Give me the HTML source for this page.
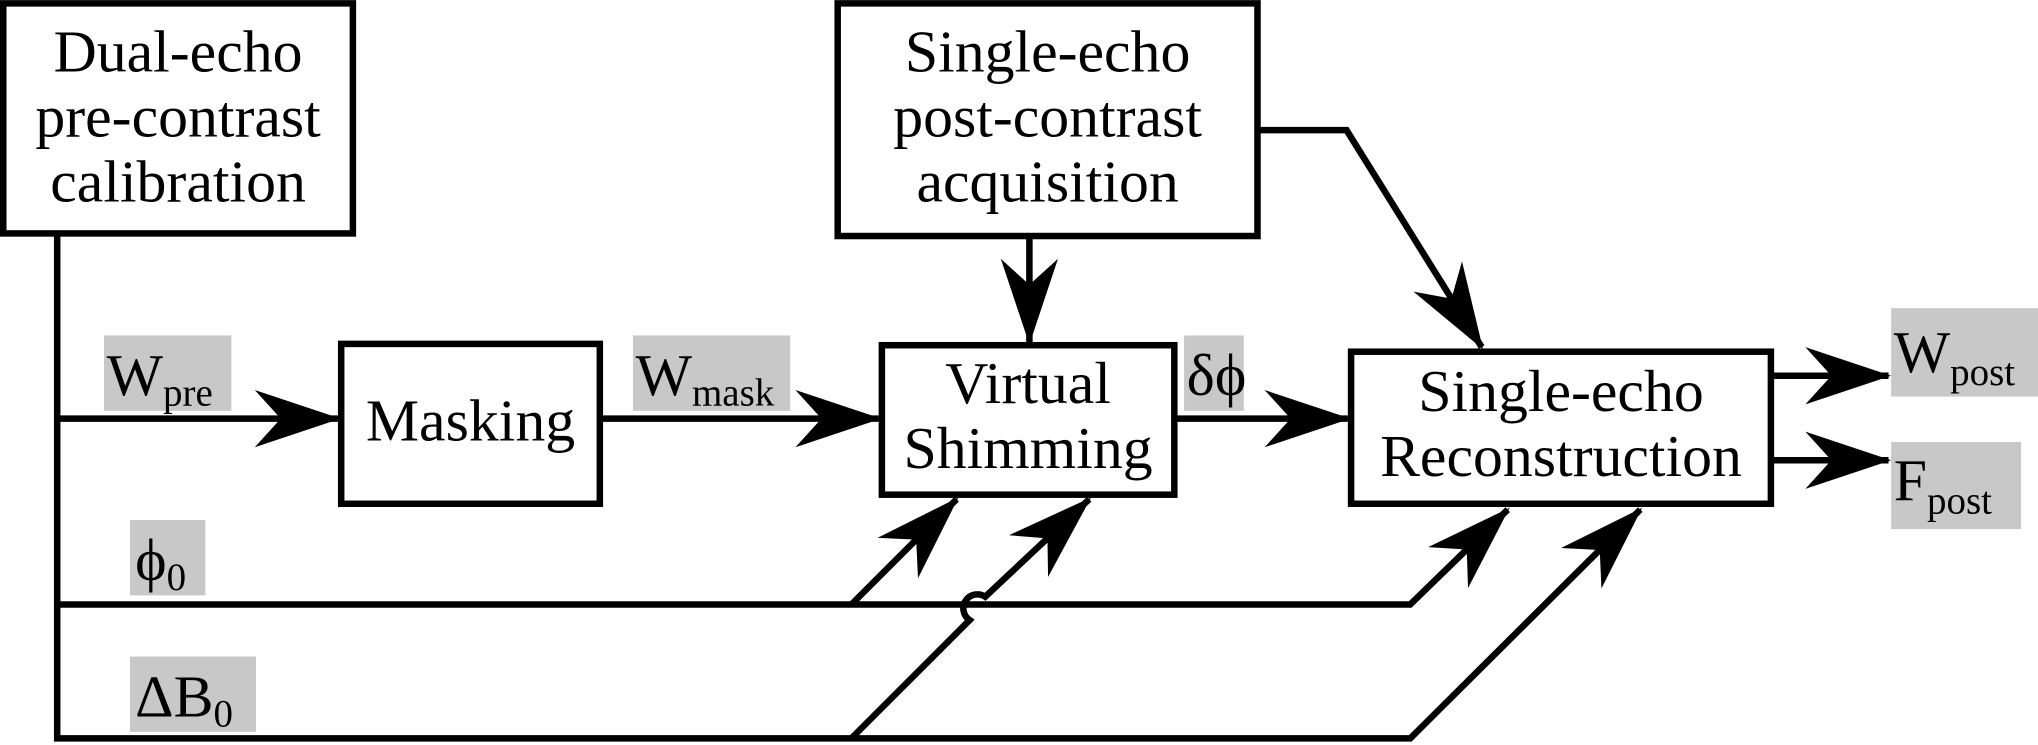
<!DOCTYPE html>
<html><head><meta charset="utf-8"><style>
html,body{margin:0;padding:0;background:#fff;}
svg{display:block;}
text{font-family:"Liberation Serif",serif;fill:#000;}
</style></head><body>
<svg width="2038" height="745" viewBox="0 0 1568 573" xmlns="http://www.w3.org/2000/svg">
<defs>
<marker id="a" markerUnits="userSpaceOnUse" markerWidth="80" markerHeight="60" refX="0" refY="0" viewBox="-70 -30 80 60" orient="auto">
<path d="M2,0 L-64,-22 L-44,0 L-64,22 Z" fill="#000"/>
</marker>
</defs>
<g fill="#c8c8c8">
<rect x="80" y="258" width="98" height="58"/>
<rect x="487" y="258" width="121" height="58"/>
<rect x="911" y="258" width="46" height="58"/>
<rect x="100" y="400" width="58" height="58"/>
<rect x="100" y="505" width="97" height="58"/>
<rect x="1455" y="237" width="113" height="68"/>
<rect x="1455" y="340" width="100" height="67"/>
</g>
<g fill="none" stroke="#000" stroke-width="5">
<rect x="2.5" y="2.5" width="269" height="177"/>
<rect x="644.5" y="2.5" width="323" height="179"/>
<rect x="262.5" y="264.5" width="199" height="123"/>
<rect x="678.5" y="265.5" width="225" height="115"/>
<rect x="1039.5" y="270.5" width="323" height="117"/>
<polyline points="44,180 44,568 1085,568 1262,392" marker-end="url(#a)"/>
<line x1="44" y1="322" x2="260" y2="322" marker-end="url(#a)"/>
<line x1="462" y1="322" x2="676" y2="322" marker-end="url(#a)"/>
<line x1="904" y1="322" x2="1037" y2="322" marker-end="url(#a)"/>
<line x1="792" y1="182" x2="792" y2="263" marker-end="url(#a)"/>
<polyline points="968,100 1036,100 1140,267" marker-end="url(#a)"/>
<polyline points="44,465 1085,465 1160,392" marker-end="url(#a)"/>
<line x1="655" y1="465" x2="736" y2="384" marker-end="url(#a)"/>
<path d="M655,568 L746,477 A9,9 0 0 1 758,459 L838,384" marker-end="url(#a)"/>
<line x1="1363" y1="289" x2="1453" y2="289" marker-end="url(#a)"/>
<line x1="1363" y1="354" x2="1453" y2="354" marker-end="url(#a)"/>
</g>
<g font-size="46" text-anchor="middle">
<text x="137" y="55">Dual-echo</text>
<text x="137" y="105">pre-contrast</text>
<text x="137" y="155">calibration</text>
<text x="806" y="55">Single-echo</text>
<text x="806" y="105">post-contrast</text>
<text x="806" y="155">acquisition</text>
<text x="362" y="339">Masking</text>
<text x="791" y="310">Virtual</text>
<text x="791" y="360">Shimming</text>
<text x="1201" y="316">Single-echo</text>
<text x="1201" y="366">Reconstruction</text>
</g>
<g font-size="46">
<text x="82" y="304">W<tspan font-size="30" dy="8">pre</tspan></text>
<text x="489" y="304">W<tspan font-size="30" dy="8">mask</tspan></text>
<text x="913" y="304">δϕ</text>
<text x="104" y="446">ϕ<tspan font-size="30" dy="8">0</tspan></text>
<text x="104" y="551">ΔB<tspan font-size="30" dy="8">0</tspan></text>
<text x="1457" y="286">W<tspan font-size="30" dy="10">post</tspan></text>
<text x="1457" y="385">F<tspan font-size="30" dy="10">post</tspan></text>
</g>
</svg>
</body></html>
